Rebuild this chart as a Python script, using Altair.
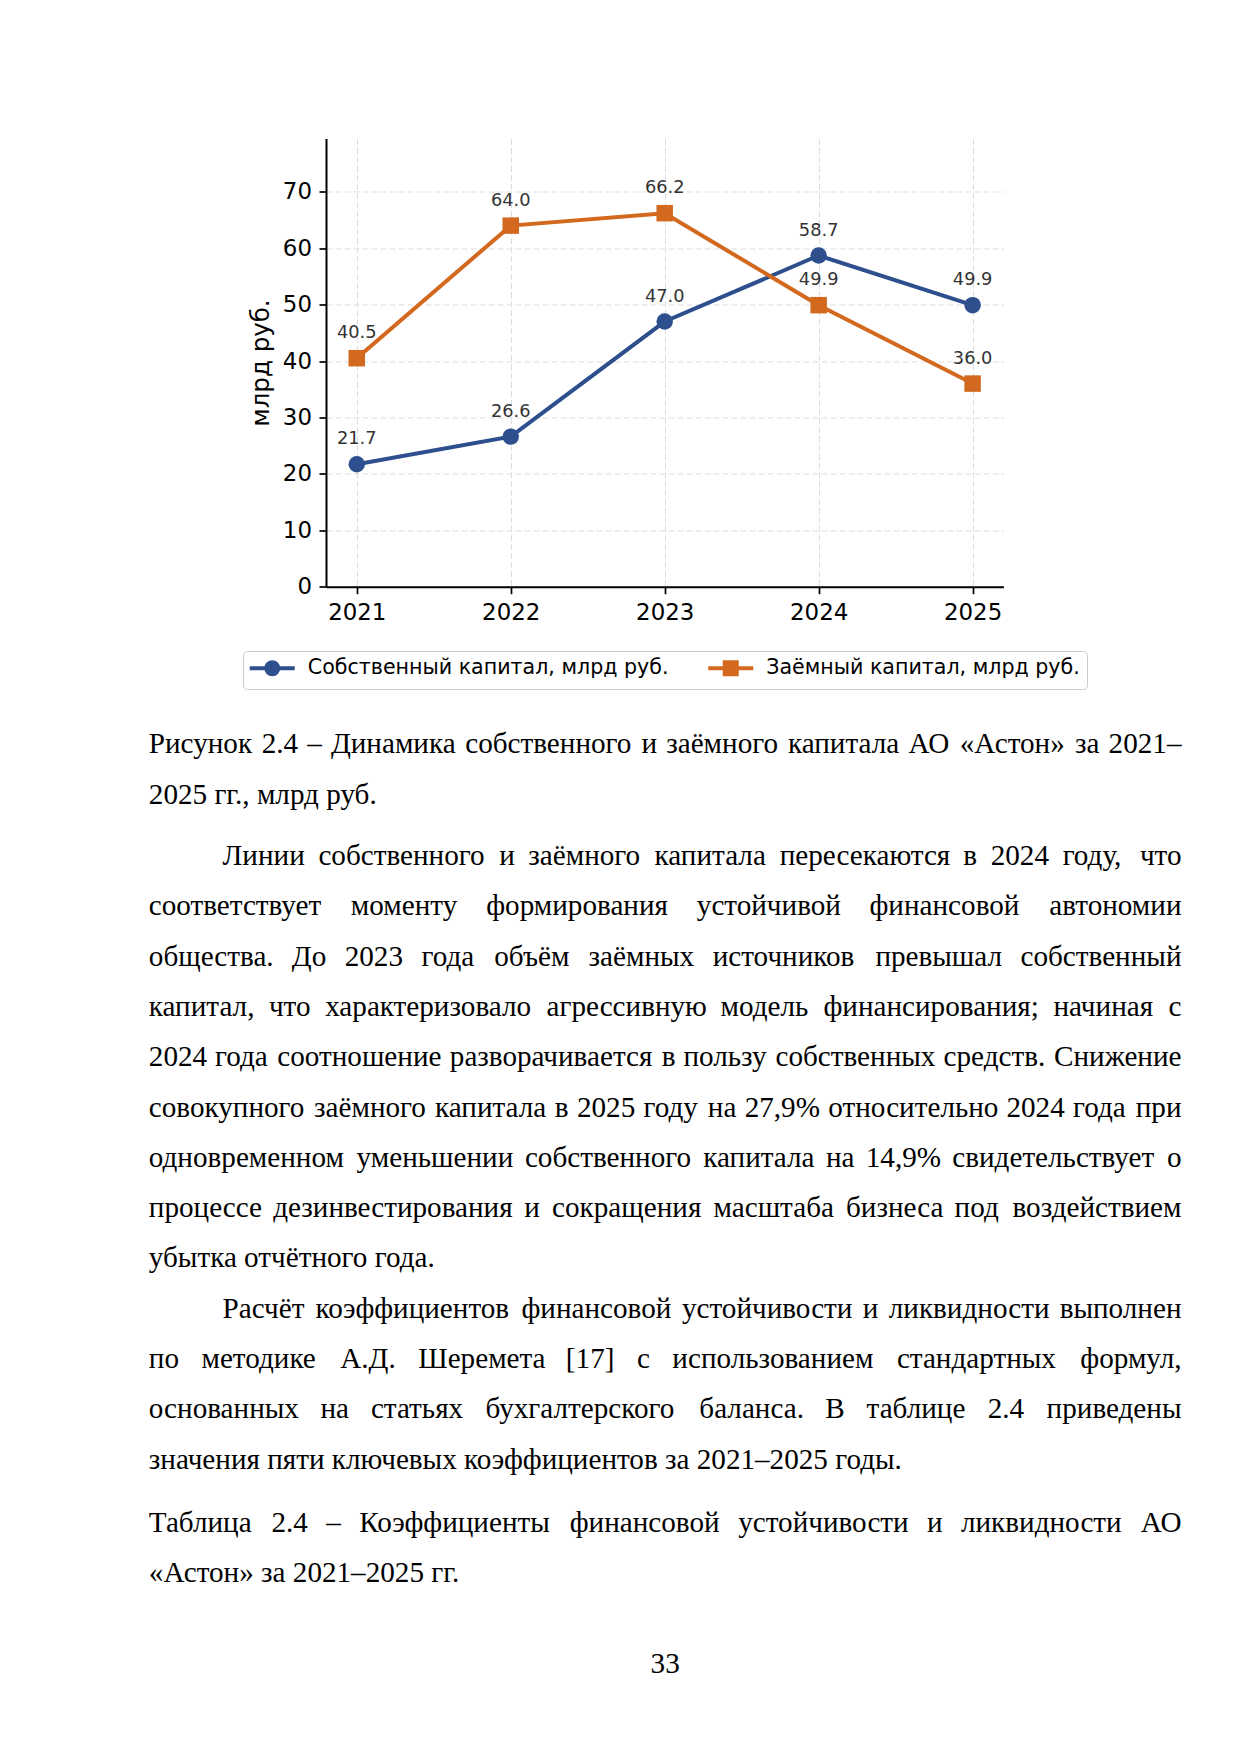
import altair as alt
import pandas as pd

# ---------------- data ----------------
years = [2021, 2022, 2023, 2024, 2025]
own_capital = [21.7, 26.6, 47.0, 58.7, 49.9]
borrowed_capital = [40.5, 64.0, 66.2, 49.9, 36.0]
series_names = ["Собственный капитал, млрд руб.", "Заёмный капитал, млрд руб."]
y_ticks = [0, 10, 20, 30, 40, 50, 60, 70]
y_title = "млрд руб."

caption_lines = [
    "Рисунок 2.4 – Динамика собственного и заёмного капитала АО «Астон» за 2021–",
    "2025 гг., млрд руб.",
]
para1_lines = [
    "Линии собственного и заёмного капитала пересекаются в 2024 году, что",
    "соответствует моменту формирования устойчивой финансовой автономии",
    "общества. До 2023 года объём заёмных источников превышал собственный",
    "капитал, что характеризовало агрессивную модель финансирования; начиная с",
    "2024 года соотношение разворачивается в пользу собственных средств. Снижение",
    "совокупного заёмного капитала в 2025 году на 27,9% относительно 2024 года при",
    "одновременном уменьшении собственного капитала на 14,9% свидетельствует о",
    "процессе дезинвестирования и сокращения масштаба бизнеса под воздействием",
    "убытка отчётного года.",
]
para2_lines = [
    "Расчёт коэффициентов финансовой устойчивости и ликвидности выполнен",
    "по методике А.Д. Шеремета [17] с использованием стандартных формул,",
    "основанных на статьях бухгалтерского баланса. В таблице 2.4 приведены",
    "значения пяти ключевых коэффициентов за 2021–2025 годы.",
]
table_caption_lines = [
    "Таблица 2.4 – Коэффициенты финансовой устойчивости и ликвидности АО",
    "«Астон» за 2021–2025 гг.",
]
page_number = "33"

# ---------------- layout / style ----------------
BLUE = "#2D4F8E"
ORANGE = "#D2691E"
colors = [BLUE, ORANGE]

PLOT_X0, PLOT_Y0 = 326.0, 138.5
PLOT_W, PLOT_H = 677.4, 448.2
X_DOMAIN = [2020.8, 2025.2]
Y_DOMAIN = [0, 79.44]

FS = 29.17
PITCH = 50.3
LEFT = 148.8
RIGHT = 1181.5
INDENT = 73.8

# approximate advance widths (em) of Liberation Serif
W = {
    "а": .444, "б": .509, "в": .472, "г": .410, "д": .509, "е": .444, "ё": .444,
    "ж": .691, "з": .395, "и": .535, "й": .535, "к": .486, "л": .499, "м": .633,
    "н": .535, "о": .500, "п": .535, "р": .500, "с": .444, "т": .437, "у": .500,
    "ф": .648, "х": .500, "ц": .535, "ч": .503, "ш": .770, "щ": .770, "ъ": .517,
    "ы": .672, "ь": .456, "э": .429, "ю": .747, "я": .460,
    "А": .722, "Б": .574, "В": .667, "Г": .578, "Д": .682, "Е": .611, "Ж": .896,
    "З": .501, "И": .722, "К": .667, "Л": .678, "М": .889, "Н": .722, "О": .722,
    "П": .722, "Р": .556, "С": .667, "Т": .611, "У": .715, "Ф": .770, "Х": .722,
    "Ц": .722, "Ч": .669, "Ш": .944, "Щ": .944, "Э": .652, "Ю": 1.0, "Я": .667,
    " ": .25, ".": .25, ",": .25, ";": .278, ":": .278, "–": .5, "«": .5, "»": .5,
    "%": .833, "[": .333, "]": .333,
}


def word_width(w):
    return sum(W.get(ch, 0.5) for ch in w) * FS


left_rows, right_rows, center_rows = [], [], []


def add_block(lines, first_baseline, indent):
    for i, line in enumerate(lines):
        base_y = first_baseline + i * PITCH - PLOT_Y0
        x0 = LEFT + (INDENT if (indent and i == 0) else 0)
        justify = i < len(lines) - 1
        if not justify:
            left_rows.append({"t": line, "px": x0 - PLOT_X0, "py": base_y})
            continue
        words = line.split(" ")
        widths = [word_width(w) for w in words]
        gap = (RIGHT - x0 - sum(widths)) / (len(words) - 1)
        x = x0
        for k, w in enumerate(words):
            if k == len(words) - 1:
                right_rows.append({"t": w, "px": RIGHT - PLOT_X0, "py": base_y})
            else:
                left_rows.append({"t": w, "px": x - PLOT_X0, "py": base_y})
            x += widths[k] + gap


add_block(caption_lines, 753.3, False)
add_block(para1_lines, 865.0, True)
add_block(para2_lines, 865.0 + 9 * PITCH, True)
add_block(table_caption_lines, 1531.5, False)
center_rows.append({"t": page_number, "px": 665.2 - PLOT_X0, "py": 1673.0 - PLOT_Y0})

# ---------------- chart ----------------
df = pd.DataFrame({
    "year": years * 2,
    "value": own_capital + borrowed_capital,
    "series": [series_names[0]] * len(years) + [series_names[1]] * len(years),
})

x_enc = alt.X(
    "year:Q",
    scale=alt.Scale(domain=X_DOMAIN, nice=False, zero=False),
    axis=alt.Axis(values=years, format="d", title=None, labelBaseline="alphabetic",
                  labelPadding=25.3, labelFlush=False, labelOverlap=False),
)
y_enc = alt.Y(
    "value:Q",
    scale=alt.Scale(domain=Y_DOMAIN, nice=False),
    axis=alt.Axis(values=y_ticks, title=y_title, labelPadding=7.5, labelFlush=False,
                  labelOverlap=False, titleX=268 - PLOT_X0, titleY=PLOT_H / 2,
                  titleAngle=270, titleBaseline="alphabetic", titleAlign="center",
                  titleFont="DejaVu Sans", titleFontSize=24.5, titleFontWeight="normal",
                  titleColor="black"),
)
base = alt.Chart(df).encode(x=x_enc, y=y_enc)

lines = base.mark_line(strokeWidth=4).encode(
    color=alt.Color("series:N", scale=alt.Scale(domain=series_names, range=colors), legend=None),
    detail="series:N",
)
pts_own = base.transform_filter(alt.datum.series == series_names[0]).mark_point(
    shape="circle", filled=True, size=272, color=BLUE, opacity=1)
pts_bor = base.transform_filter(alt.datum.series == series_names[1]).mark_point(
    shape="square", filled=True, size=272, color=ORANGE, opacity=1)
labels = base.mark_text(font="DejaVu Sans", fontSize=17.8, color="#333333",
                        baseline="alphabetic", dy=-20).encode(
    text=alt.Text("value:Q", format=".1f"))

circle_path = "M-2.73,0L2.73,0M0.727,0A0.727,0.727,0,1,1,-0.727,0A0.727,0.727,0,1,1,0.727,0Z"
square_path = "M-2.73,0L2.73,0M-0.727,-0.727L0.727,-0.727L0.727,0.727L-0.727,0.727Z"

# invisible layer (opacity 0) that only carries the legend
legend_layer = base.mark_point(filled=True, size=272, opacity=0, strokeWidth=4).encode(
    fill=alt.Fill("series:N", scale=alt.Scale(domain=series_names, range=colors), title=None),
    stroke=alt.Stroke("series:N", scale=alt.Scale(domain=series_names, range=colors), title=None),
    shape=alt.Shape(
        "series:N",
        scale=alt.Scale(domain=series_names, range=[circle_path, square_path]),
        title=None,
        legend=alt.Legend(
            orient="none", legendX=243 - PLOT_X0, legendY=651 - PLOT_Y0,
            direction="horizontal", columns=2, padding=6.5, symbolOffset=12.25,
            labelOffset=25, columnPadding=30.5, rowPadding=0,
            strokeColor="#cccccc", fillColor="white", cornerRadius=4,
            labelFont="DejaVu Sans", labelFontSize=20.6, labelColor="black",
            labelLimit=800, symbolSize=272, symbolStrokeWidth=4, symbolOpacity=1,
        ),
    ),
)


def text_layer(rows, align):
    return alt.Chart(pd.DataFrame(rows)).mark_text(
        align=align, baseline="alphabetic", font="Liberation Serif",
        fontSize=FS, color="black").encode(
        x=alt.X("px:Q", scale=None, axis=None),
        y=alt.Y("py:Q", scale=None, axis=None),
        text="t:N",
    )


page_text = [text_layer(left_rows, "left"), text_layer(right_rows, "right"),
             text_layer(center_rows, "center")]

chart = alt.layer(legend_layer, lines, pts_own, pts_bor, labels, *page_text).properties(
    width=PLOT_W,
    height=PLOT_H,
    autosize=alt.AutoSizeParams(type="none"),
    padding={"left": PLOT_X0 - 8, "top": PLOT_Y0 - 8,
             "right": 1225 - (PLOT_X0 - 8) - PLOT_W, "bottom": 1730 - (PLOT_Y0 - 8) - PLOT_H},
    background="white",
).configure_view(stroke=None).configure_axis(
    labelFont="DejaVu Sans", labelFontSize=22.9, labelColor="black",
    tickSize=7, tickWidth=1.7, tickColor="black",
    domainColor="black", domainWidth=2,
    grid=True, gridColor="#dddddd", gridDash=[6, 3], gridWidth=1,
    labelAngle=0,
)

chart.save("out.html", embed_options={"renderer": "svg", "actions": False})
